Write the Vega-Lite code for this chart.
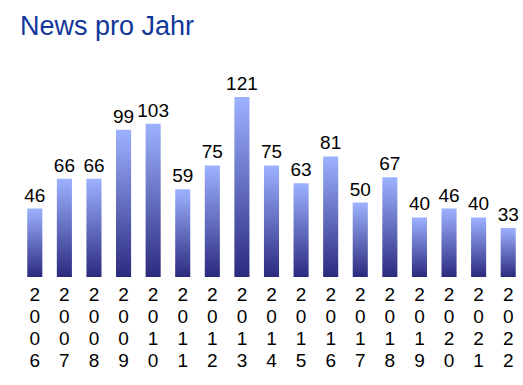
{
  "$schema": "https://vega.github.io/schema/vega-lite/v6.json",
  "width": 503,
  "height": 193.4,
  "autosize": "none",
  "padding": {"left": 20, "top": 83.6, "right": 0, "bottom": 108},
  "background": "white",
  "title": {
    "text": "News pro Jahr",
    "anchor": "start",
    "frame": "group",
    "offset": 34,
    "fontSize": 27,
    "font": "Liberation Sans",
    "fontWeight": "normal",
    "color": "#12379a"
  },
  "data": {
    "values": [
      {"year": "2006", "news": 46},
      {"year": "2007", "news": 66},
      {"year": "2008", "news": 66},
      {"year": "2009", "news": 99},
      {"year": "2010", "news": 103},
      {"year": "2011", "news": 59},
      {"year": "2012", "news": 75},
      {"year": "2013", "news": 121},
      {"year": "2014", "news": 75},
      {"year": "2015", "news": 63},
      {"year": "2016", "news": 81},
      {"year": "2017", "news": 50},
      {"year": "2018", "news": 67},
      {"year": "2019", "news": 40},
      {"year": "2020", "news": 46},
      {"year": "2021", "news": 40},
      {"year": "2022", "news": 33}
    ]
  },
  "encoding": {
    "x": {
      "field": "year",
      "type": "nominal",
      "sort": null,
      "scale": {"paddingInner": 0.49, "paddingOuter": 0.245},
      "axis": {
        "title": null,
        "domain": false,
        "ticks": false,
        "grid": false,
        "labelAngle": 0,
        "labelExpr": "split(datum.label, '')",
        "labelFont": "Liberation Sans",
        "labelFontSize": 19,
        "labelLineHeight": 22.3,
        "labelColor": "black",
        "labelBaseline": "top",
        "labelPadding": 8
      }
    },
    "y": {
      "field": "news",
      "type": "quantitative",
      "scale": {"domain": [0, 130], "nice": false},
      "axis": null
    }
  },
  "layer": [
    {
      "mark": {
        "type": "bar",
        "color": {
          "gradient": "linear",
          "x1": 0, "y1": 0, "x2": 0, "y2": 1,
          "stops": [
            {"offset": 0, "color": "#9db2ff"},
            {"offset": 1, "color": "#2b2a7e"}
          ]
        }
      }
    },
    {
      "mark": {
        "type": "text",
        "baseline": "bottom",
        "dy": -3,
        "font": "Liberation Sans",
        "fontSize": 19,
        "color": "black"
      },
      "encoding": {"text": {"field": "news", "type": "quantitative"}}
    }
  ],
  "config": {"view": {"stroke": null}}
}
